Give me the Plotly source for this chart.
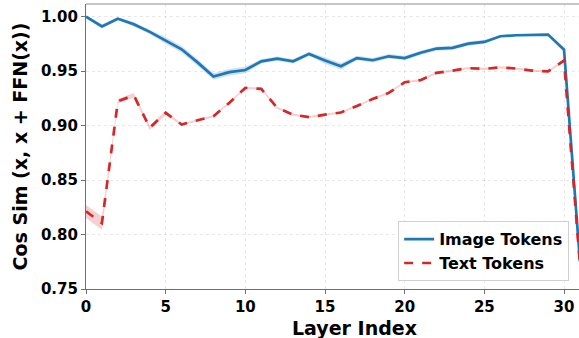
import plotly.graph_objects as go

layers = list(range(32))
image_tokens = [1.000, 0.991, 0.998, 0.993, 0.986, 0.978, 0.970, 0.958, 0.945, 0.949,
                0.951, 0.959, 0.9615, 0.959, 0.9658, 0.9597, 0.9544, 0.962, 0.960, 0.9636,
                0.962, 0.9668, 0.9707, 0.9713, 0.9752, 0.9768, 0.982, 0.9829, 0.983, 0.9835,
                0.9697, 0.775]
text_tokens = [0.8212, 0.8105, 0.9223, 0.9278, 0.898, 0.9117, 0.901, 0.905, 0.9086, 0.921,
               0.9346, 0.9337, 0.9163, 0.910, 0.9077, 0.910, 0.912, 0.918, 0.9245, 0.930,
               0.9398, 0.9417, 0.9484, 0.9505, 0.9527, 0.952, 0.9535, 0.9523, 0.9505, 0.9498,
               0.9597, 0.772]
image_err = [0.001, 0.002, 0.001, 0.002, 0.002, 0.003, 0.003, 0.003, 0.003, 0.003,
             0.003, 0.002, 0.002, 0.002, 0.002, 0.003, 0.003, 0.002, 0.002, 0.002,
             0.002, 0.002, 0.002, 0.002, 0.002, 0.002, 0.001, 0.001, 0.001, 0.001,
             0.001, 0.002]
text_err = [0.006, 0.006, 0.002, 0.002, 0.002, 0.002, 0.001, 0.001, 0.001, 0.001,
            0.001, 0.001, 0.001, 0.001, 0.001, 0.001, 0.001, 0.001, 0.001, 0.001,
            0.001, 0.001, 0.001, 0.001, 0.001, 0.001, 0.001, 0.001, 0.001, 0.001,
            0.001, 0.002]
x_ticks = [0, 5, 10, 15, 20, 25, 30]
y_ticks = [0.75, 0.80, 0.85, 0.90, 0.95, 1.00]

BLUE = "#1f77b4"
RED = "#d62728"
FONT = "DejaVu Sans"

fig = go.Figure()


def add_band(y, err, color):
    upper = [v + e for v, e in zip(y, err)]
    lower = [v - e for v, e in zip(y, err)]
    fig.add_trace(go.Scatter(x=layers, y=upper, mode="lines", line=dict(width=0),
                             showlegend=False, hoverinfo="skip"))
    fig.add_trace(go.Scatter(x=layers, y=lower, mode="lines", line=dict(width=0),
                             fill="tonexty", fillcolor=color, showlegend=False,
                             hoverinfo="skip"))


add_band(image_tokens, image_err, "rgba(31,119,180,0.22)")
add_band(text_tokens, text_err, "rgba(214,39,40,0.22)")

fig.add_trace(go.Scatter(x=layers, y=image_tokens, mode="lines", name="Image Tokens",
                         line=dict(color=BLUE, width=2.7)))
fig.add_trace(go.Scatter(x=layers, y=text_tokens, mode="lines", name="Text Tokens",
                         line=dict(color=RED, width=2.7, dash="dash")))

axis_common = dict(
    showgrid=True, gridcolor="rgba(0,0,0,0.09)", griddash="dot", gridwidth=1,
    showline=True, linecolor="#707070", linewidth=1.2,
    ticks="outside", ticklen=4, tickcolor="#707070", tickwidth=1.2,
    tickfont=dict(family=FONT, size=15, color="black", weight="bold"),
    zeroline=False, automargin=False,
)

fig.update_layout(
    width=579, height=338,
    margin=dict(l=85.5, r=0, t=4, b=48.7, autoexpand=False),
    plot_bgcolor="white", paper_bgcolor="white",
    xaxis=dict(range=[0, 30.94], tickvals=x_ticks, **axis_common),
    yaxis=dict(range=[0.75, 1.0116], tickvals=y_ticks, tickformat=".2f",
               title=dict(text="Cos Sim (x, x + FFN(x))", standoff=8,
                          font=dict(family=FONT, size=19, color="black", weight="bold")),
               **axis_common),
    legend=dict(x=0.98, y=0.027, xanchor="right", yanchor="bottom",
                bgcolor="rgba(255,255,255,0.85)", bordercolor="#d0d0d0", borderwidth=1,
                font=dict(family=FONT, size=16, color="black", weight="bold"),
                itemwidth=30, tracegroupgap=0, traceorder="normal"),
    showlegend=True,
)

fig.add_annotation(text="Layer Index", xref="paper", yref="paper",
                   x=0.544, y=-0.137, xanchor="center", yanchor="middle",
                   showarrow=False,
                   font=dict(family=FONT, size=19, color="black", weight="bold"))

fig.add_shape(type="line", xref="paper", yref="paper", x0=0, x1=1, y0=1, y1=1,
              line=dict(color="#909090", width=1.2))

fig.write_html("out.html",
               config={"displayModeBar": False},
               post_script="document.body.style.margin='0';"
                           "document.body.style.overflow='hidden';")
